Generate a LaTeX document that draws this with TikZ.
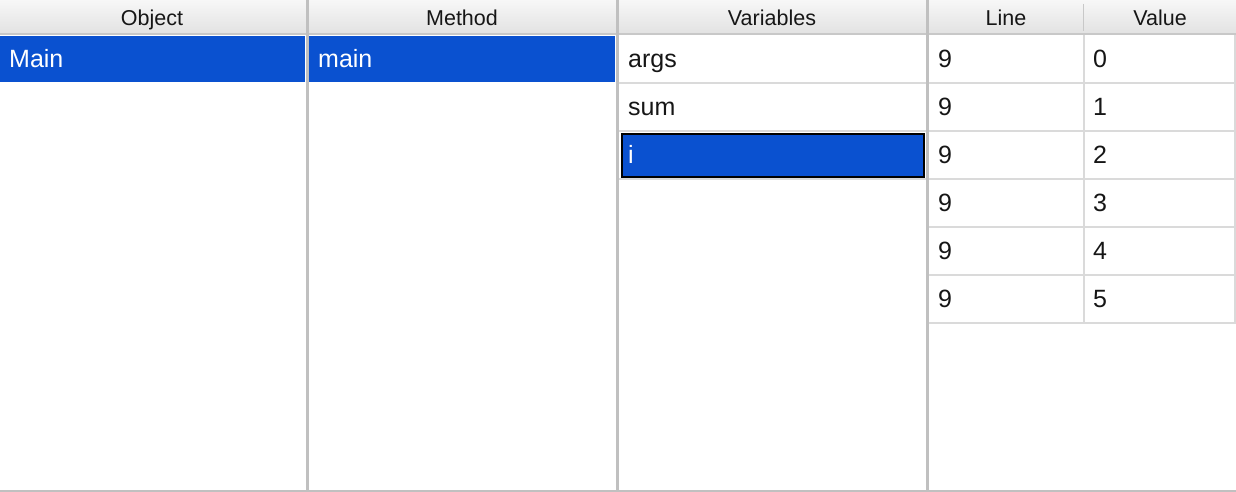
\documentclass[tikz,border=0pt]{standalone}
\usepackage{fontspec}
\setmainfont{Liberation Sans}
\definecolor{selblue}{RGB}{10,81,208}
\definecolor{divgray}{RGB}{192,192,192}
\definecolor{gridgray}{RGB}{218,218,218}
\definecolor{hdrtop}{RGB}{247,247,247}
\definecolor{hdrbot}{RGB}{226,226,226}
\definecolor{hdrline}{RGB}{200,200,200}
\definecolor{txt}{RGB}{22,22,22}
\tikzset{
  hdrtext/.style={anchor=base, inner sep=0pt, text=txt, font=\fontsize{21.5}{26}\selectfont},
  rowtext/.style={anchor=base west, inner sep=0pt, text=txt, font=\fontsize{25}{30}\selectfont},
  seltext/.style={rowtext, text=white},
  selbox/.style={anchor=north west, fill=selblue, draw=none, inner sep=0pt},
  gridline/.style={draw=gridgray, line width=2pt},
  divbar/.style={fill=divgray, draw=none},
}
\begin{document}
\begin{tikzpicture}[x=1pt,y=-1pt]
\useasboundingbox (0,0) rectangle (1236,492);
\fill[white] (0,0) rectangle (1236,492);
% header
\shade[top color=hdrtop, bottom color=hdrbot] (0,0) rectangle (1236,34);
\fill[hdrline] (0,33.5) rectangle (1236,35.5);
\draw[hdrline, line width=1pt] (1083.5,4) -- (1083.5,31);
\node[hdrtext] (hobj) at (152,26) {Object};
\node[hdrtext] (hmeth) at (462,26) {Method};
\node[hdrtext] (hvar) at (772,26) {Variables};
\node[hdrtext] (hline) at (1006,26) {Line};
\node[hdrtext] (hval) at (1160,26) {Value};
% selections
\node[selbox, minimum width=305, minimum height=46.5] (selobj) at (0,35.5) {};
\node[seltext] (tmain) at (9,67.5) {Main};
\node[selbox, minimum width=306, minimum height=46.5] (selmeth) at (309,35.5) {};
\node[seltext] (tmeth) at (318,67.5) {main};
% variables
\draw[gridline] (619,83) -- (925.5,83);
\draw[gridline] (619,131) -- (925.5,131);
\draw[gridline] (619,179) -- (925.5,179);
\node[rowtext] (targs) at (628,67.5) {args};
\node[rowtext] (tsum) at (628,115.5) {sum};
\node[selbox, minimum width=302, minimum height=43, draw=black, line width=2pt] (selvar) at (621,133) {};
\node[seltext] (ti) at (628,163.5) {i};
% line/value grid
\foreach \yy in {83,131,179,227,275,323}{\draw[gridline] (929,\yy) -- (1236,\yy);}
\draw[gridline] (1083.5,35.5) -- (1083.5,324);
\draw[gridline] (1235,35.5) -- (1235,324);
\foreach \v [count=\k from 0] in {0,1,2,3,4,5}{
  \node[rowtext] (ln\k) at (938,67.5+48*\k) {9};
  \node[rowtext] (vl\k) at (1093,67.5+48*\k) {\v};
}
% dividers and bottom
\fill[divgray] (305.5,0) rectangle (309,492);
\fill[divgray] (615.5,0) rectangle (619,492);
\fill[divgray] (925.5,0) rectangle (929,492);
\fill[divgray] (0,489.5) rectangle (1236,492);
\end{tikzpicture}
\end{document}
